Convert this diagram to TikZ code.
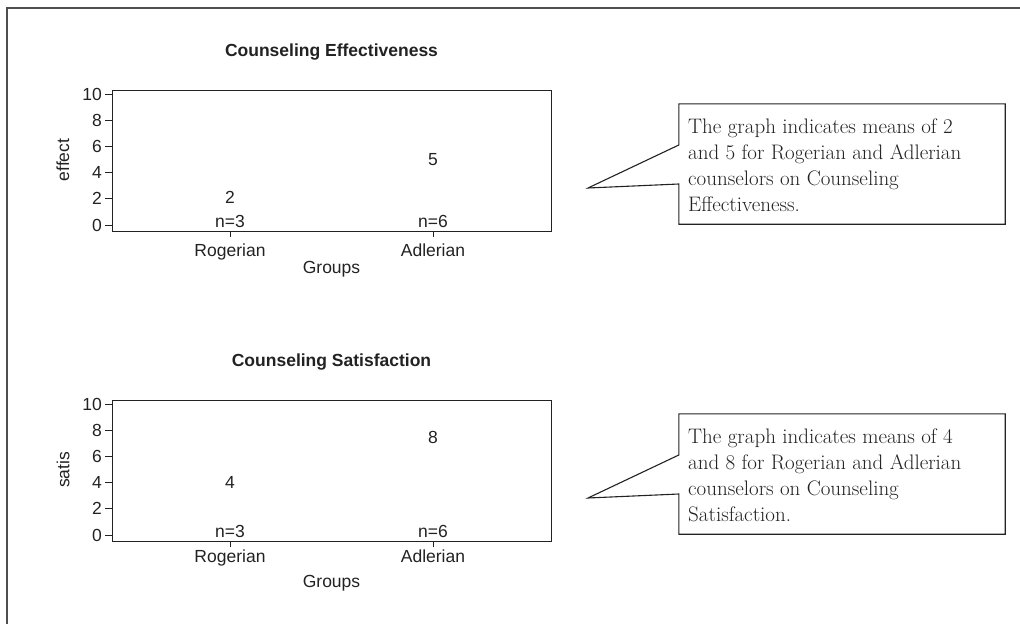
\documentclass[tikz,border=0pt]{standalone}
\usepackage{fontspec}
\newfontfamily\plotfont{Liberation Sans}
\usepackage{tikz}
\usetikzlibrary{calc}
\usetikzlibrary{positioning}
\definecolor{ink}{HTML}{222222}
\tikzset{plotbox/.style={draw=ink,line width=1.3pt,minimum width=439pt,minimum height=141pt,inner sep=0pt,anchor=north west}}
\tikzset{lbl/.style={font=\plotfont\fontsize{17.5}{20}\selectfont,text=ink,inner sep=0pt}}
\tikzset{ttl/.style={font=\plotfont\bfseries\fontsize{17.5}{20}\selectfont,text=ink,inner sep=0pt}}
\tikzset{note/.style={minimum width=326pt,minimum height=120pt,inner sep=0pt}}
\tikzset{notetext/.style={font=\fontsize{21}{26}\selectfont,text=ink,align=left,inner sep=0pt,anchor=north west}}

\begin{document}
\begin{tikzpicture}[x=1pt,y=-1pt]
\useasboundingbox (0,0) rectangle (1020,624);
\draw[ink!80,line width=2pt] (7,624) -- (7,8) -- (1020,8);
\foreach \k/\dy/\ttl/\yl/\ma/\mb/\pa/\pb/\rb/\gb in {%
  1/0/Counseling Effectiveness/effect/2/5/197/160/256/273,
  2/310/Counseling Satisfaction/satis/4/8/172/127/252/277} {
\begin{scope}[shift={(0,\dy)}]
\node[plotbox] (box\k) at (112,90) {};
\node[ttl] (title\k) at (331.5,52) {\ttl};
\foreach \v in {0,2,...,10} {
	\node[lbl,anchor=east] (yt\k-\v) at (102,{225-13.1*\v}) {\v};
	\draw[ink,line width=1pt] (105,{225-13.1*\v}) -- (112,{225-13.1*\v});
}
\node[lbl,rotate=90] (ylab\k) at (63,160) {\yl};
\draw[ink,line width=1pt] (230,231) -- (230,237);
\draw[ink,line width=1pt] (433,231) -- (433,237);
\node[lbl,anchor=base] (rog\k) at (230,\rb) {Rogerian};
\node[lbl,anchor=base] (adl\k) at (433,\rb) {Adlerian};
\node[lbl,anchor=base] (grp\k) at (331.5,\gb) {Groups};
\node[lbl] (ma\k) at (230,\pa) {\ma};
\node[lbl] (mb\k) at (433,\pb) {\mb};
\node[lbl] (na\k) at (230,221) {n=3};
\node[lbl] (nb\k) at (433,221) {n=6};
% callout
\node[note] (note\k) at (842,164) {};
\coordinate (tip\k) at (588,188);
\draw[ink,line width=1.1pt,fill=white] (note\k.north west) -- ($(note\k.west)+(0,-19)$) -- (tip\k)
	-- ($(note\k.west)+(0,20)$) -- (note\k.south west) -- (note\k.south east) -- (note\k.north east) -- cycle;
\ifnum\k=1
\node[notetext] (txt\k) at (688,118.5) {The graph indicates means of 2\\and 5 for Rogerian and Adlerian\\counselors on Counseling\\Effectiveness.};
\else
\node[notetext] (txt\k) at (688,118.5) {The graph indicates means of 4\\and 8 for Rogerian and Adlerian\\counselors on Counseling\\Satisfaction.};
\fi
\end{scope}
}
\end{tikzpicture}
\end{document}
